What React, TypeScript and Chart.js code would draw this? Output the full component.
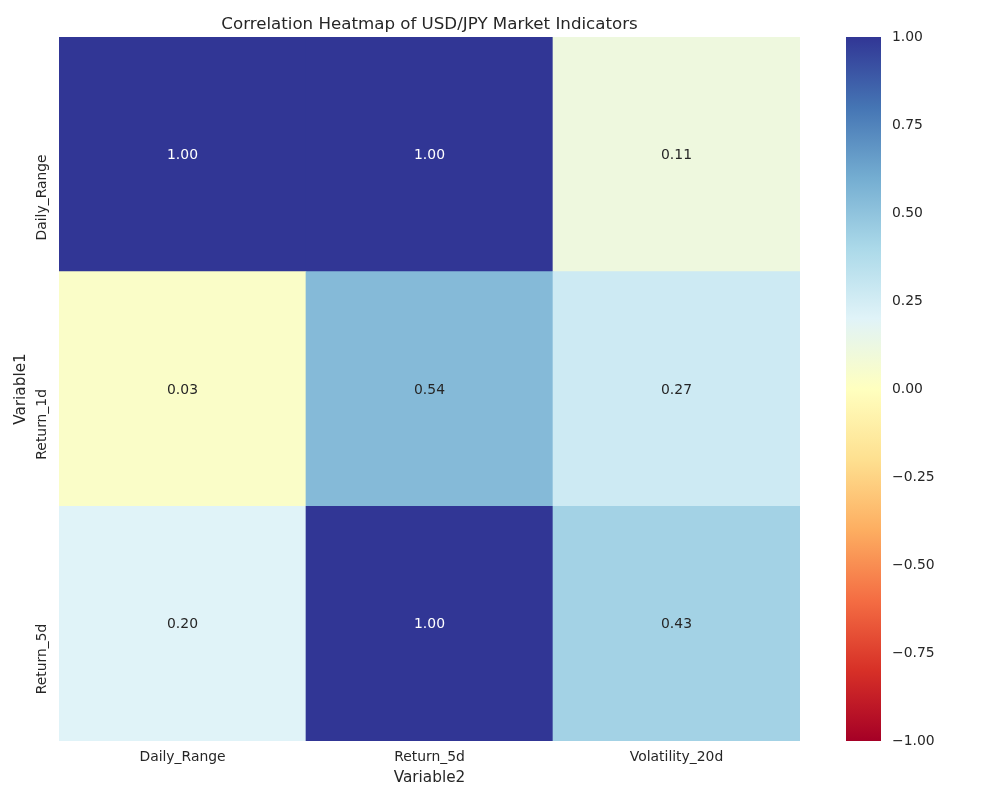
import { useEffect, useRef } from "react";
import { Chart, registerables } from "chart.js";

Chart.register(...registerables);

// ---- data ----
const colLabels = ["Daily_Range", "Return_5d", "Volatility_20d"];
const rowLabels = ["Daily_Range", "Return_1d", "Return_5d"];
const dailyRangeRow = [1.0, 1.0, 0.11];
const return1dRow = [0.03, 0.54, 0.27];
const return5dRow = [0.2, 1.0, 0.43];
const colorbarTicks = [-1, -0.75, -0.5, -0.25, 0, 0.25, 0.5, 0.75, 1];
const titleText = "Correlation Heatmap of USD/JPY Market Indicators";
const xTitle = "Variable2";
const yTitle = "Variable1";

// RdYlBu colormap control colours (low -> high)
const rdYlBu = [
  [165, 0, 38],
  [215, 48, 39],
  [244, 109, 67],
  [253, 174, 97],
  [254, 224, 144],
  [255, 255, 191],
  [224, 243, 248],
  [171, 217, 233],
  [116, 173, 209],
  [69, 117, 180],
  [49, 54, 149],
];

const FONT = "DejaVu Sans";
const TEXT = "#262626";
const TICK_SIZE = 13.9;
const LABEL_SIZE = 15.3;
const TITLE_SIZE = 16.67;

function cmapRGB(v: number): number[] {
  const t = Math.max(0, Math.min(1, (v + 1) / 2)) * 10;
  const i = Math.min(9, Math.floor(t));
  const f = t - i;
  const a = rdYlBu[i];
  const b = rdYlBu[i + 1];
  return [0, 1, 2].map((k) => Math.round(a[k] + (b[k] - a[k]) * f));
}
function rgbStr(c: number[]) {
  return `rgb(${c[0]},${c[1]},${c[2]})`;
}
function luminance(c: number[]) {
  const lin = c.map((x) => {
    const s = x / 255;
    return s <= 0.03928 ? s / 12.92 : Math.pow((s + 0.055) / 1.055, 2.4);
  });
  return 0.2126 * lin[0] + 0.7152 * lin[1] + 0.0722 * lin[2];
}
function fmtTick(v: number) {
  const s = Math.abs(v).toFixed(2);
  return v < 0 ? "\u2212" + s : s;
}

const annotPlugin = {
  id: "annot",
  afterDatasetsDraw(chart: any) {
    const ctx = chart.ctx;
    ctx.save();
    ctx.font = `${TICK_SIZE}px "${FONT}"`;
    ctx.textAlign = "center";
    ctx.textBaseline = "middle";
    chart.data.datasets.forEach((ds: any, i: number) => {
      const meta = chart.getDatasetMeta(i);
      meta.data.forEach((el: any, j: number) => {
        const v = ds.values[j];
        const col = cmapRGB(v);
        ctx.fillStyle = luminance(col) < 0.408 ? "#ffffff" : TEXT;
        ctx.fillText(v.toFixed(2), el.x, (el.y + el.base) / 2 + 1);
      });
    });
    ctx.restore();
  },
};

export default function App() {
  const mainRef = useRef<HTMLCanvasElement>(null);
  const cbarRef = useRef<HTMLCanvasElement>(null);

  useEffect(() => {
    const rows = [
      { name: rowLabels[2], values: return5dRow },
      { name: rowLabels[1], values: return1dRow },
      { name: rowLabels[0], values: dailyRangeRow },
    ];

    const main = new Chart(mainRef.current!, {
      type: "bar",
      data: {
        labels: colLabels,
        datasets: rows.map((r) => ({
          label: r.name,
          data: r.values.map(() => 1),
          values: r.values,
          backgroundColor: r.values.map((v) => rgbStr(cmapRGB(v))),
          borderWidth: 0,
          barPercentage: 1,
          categoryPercentage: 1,
        })) as any,
      },
      options: {
        responsive: false,
        animation: false,
        events: [],
        layout: { padding: { left: 0, right: 30, top: 0, bottom: 0 } },
        plugins: {
          legend: { display: false },
          tooltip: { enabled: false },
          title: {
            display: true,
            fullSize: false,
            text: titleText,
            color: TEXT,
            font: { family: FONT, size: TITLE_SIZE, weight: "normal" as any, lineHeight: 1.2 },
            padding: { top: 15, bottom: 2 },
          },
        },
        scales: {
          x: {
            stacked: true,
            grid: { display: false, drawTicks: false },
            border: { display: false },
            ticks: { color: TEXT, font: { family: FONT, size: TICK_SIZE }, padding: 8, maxRotation: 0 },
            title: {
              display: true,
              text: xTitle,
              color: TEXT,
              font: { family: FONT, size: LABEL_SIZE, lineHeight: 1.2 },
              padding: { top: 0, bottom: 12.8 },
            },
            afterFit: (s: any) => {
              s.height = 59;
            },
          },
          y: {
            type: "linear",
            stacked: true,
            min: 0,
            max: 3,
            grid: { display: false, drawTicks: false },
            border: { display: false },
            afterBuildTicks: (s: any) => {
              s.ticks = [0.5, 1.5, 2.5].map((v) => ({ value: v }));
            },
            ticks: {
              color: TEXT,
              font: { family: FONT, size: TICK_SIZE },
              minRotation: 90,
              maxRotation: 90,
              crossAlign: "near",
              padding: 17,
              callback: (v: any) => rowLabels[2 - Math.floor(Number(v))],
            },
            title: {
              display: true,
              text: yTitle,
              color: TEXT,
              font: { family: FONT, size: LABEL_SIZE, lineHeight: 1.2 },
              padding: { top: 11.8, bottom: 0 },
            },
            afterFit: (s: any) => {
              s.width = 59;
            },
          },
        },
      } as any,
      plugins: [annotPlugin],
    });

    const cbar = new Chart(cbarRef.current!, {
      type: "bar",
      data: {
        labels: [""],
        datasets: [
          {
            data: [[-1, 1]] as any,
            borderWidth: 0,
            barPercentage: 1,
            categoryPercentage: 1,
            backgroundColor: (c: any) => {
              const chart = c.chart;
              const ys = chart.scales && chart.scales.y;
              if (!ys || !chart.chartArea) return rgbStr(rdYlBu[5]);
              const g = chart.ctx.createLinearGradient(
                0,
                ys.getPixelForValue(-1),
                0,
                ys.getPixelForValue(1)
              );
              rdYlBu.forEach((col, i) => g.addColorStop(i / 10, rgbStr(col)));
              return g;
            },
          },
        ],
      },
      options: {
        responsive: false,
        animation: false,
        events: [],
        layout: { padding: { left: 16, top: 37, bottom: 59, right: 0 } },
        plugins: { legend: { display: false }, tooltip: { enabled: false } },
        scales: {
          x: { display: false },
          y: {
            position: "right",
            min: -1,
            max: 1,
            grid: { display: false, drawTicks: false },
            border: { display: false },
            afterBuildTicks: (s: any) => {
              s.ticks = colorbarTicks.map((v) => ({ value: v }));
            },
            ticks: {
              color: TEXT,
              font: { family: FONT, size: TICK_SIZE },
              padding: 11,
              callback: (v: any) => fmtTick(Number(v)),
            },
            afterFit: (s: any) => {
              s.width = 119;
            },
          },
        },
      } as any,
    });

    return () => {
      main.destroy();
      cbar.destroy();
    };
  }, []);

  return (
    <div
      style={{
        position: "fixed",
        left: 0,
        top: 0,
        width: 1000,
        height: 800,
        background: "#ffffff",
      }}
    >
      <canvas
        ref={mainRef}
        width={830}
        height={800}
        style={{ position: "absolute", left: 0, top: 0, width: 830, height: 800 }}
      />
      <canvas
        ref={cbarRef}
        width={170}
        height={800}
        style={{ position: "absolute", left: 830, top: 0, width: 170, height: 800 }}
      />
    </div>
  );
}
